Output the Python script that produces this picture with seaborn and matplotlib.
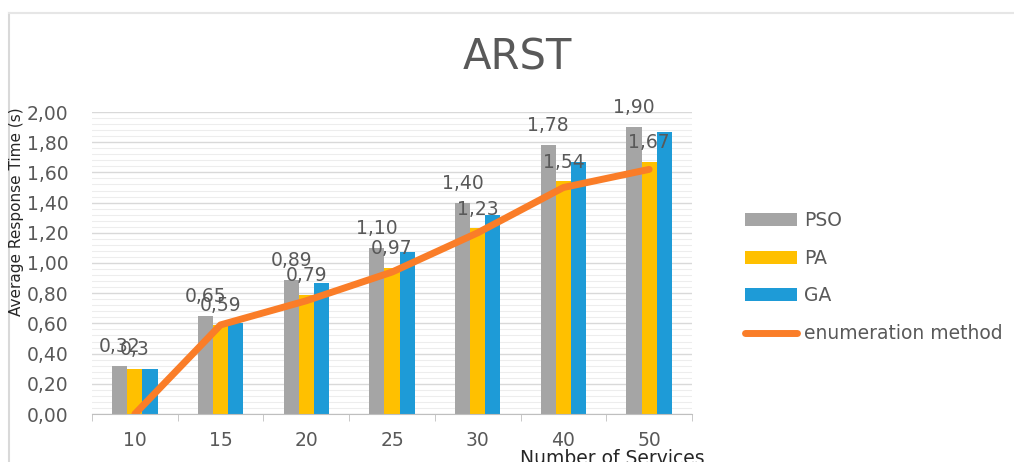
import numpy as np
import pandas as pd
import seaborn as sns
import matplotlib
matplotlib.use('Agg')
import matplotlib.pyplot as plt
from matplotlib.ticker import MultipleLocator, FuncFormatter
from matplotlib.lines import Line2D

# chart data
services = ['10', '15', '20', '25', '30', '40', '50']
methods = ['PSO', 'PA', 'GA']
pso = [0.32, 0.65, 0.89, 1.10, 1.40, 1.78, 1.90]
pa = [0.30, 0.59, 0.79, 0.97, 1.23, 1.54, 1.67]
ga = [0.30, 0.60, 0.87, 1.07, 1.32, 1.67, 1.87]
enumeration = [0.00, 0.59, 0.75, 0.94, 1.20, 1.50, 1.62]

colors = ['#A5A5A5', '#FFC000', '#1E9BD7']
line_color = '#FA7D28'
text_color = '#595959'

df = pd.DataFrame({
    'services': services * 3,
    'method': np.repeat(methods, len(services)),
    'value': pso + pa + ga,
})

fig = plt.figure(figsize=(10.14, 4.62), dpi=100)
ax = fig.add_axes([92 / 1014, 1 - 414 / 462, 600 / 1014, 302 / 462])

sns.barplot(data=df, x='services', y='value', hue='method', order=services,
            hue_order=methods, palette=colors, width=0.53, gap=0,
            saturation=1, linewidth=0, ax=ax)
sns.lineplot(x=np.arange(len(services)), y=enumeration, color=line_color,
             linewidth=5, label='enumeration method', ax=ax,
             solid_capstyle='round', solid_joinstyle='round')

# data labels like excel: PSO with two decimals, PA in general format
ax.bar_label(ax.containers[0], labels=[f'{v:.2f}'.replace('.', ',') for v in pso],
             padding=7, fontsize=13.5, color=text_color)
ax.bar_label(ax.containers[1], labels=[f'{v:g}'.replace('.', ',') for v in pa],
             padding=7, fontsize=13.5, color=text_color)

handles, labels = ax.get_legend_handles_labels()
ax.get_legend().remove()
fig.legend(handles, labels, loc='center left', bbox_to_anchor=(728 / 1014, 1 - 277 / 462),
           frameon=False, fontsize=13.5, handlelength=2.8, handleheight=0.7,
           labelspacing=1.0, handletextpad=0.35, labelcolor=text_color)

ax.set_xlim(-0.5, len(services) - 0.5)
ax.set_ylim(0, 2.0)
ax.yaxis.set_major_locator(MultipleLocator(0.2))
ax.yaxis.set_minor_locator(MultipleLocator(0.04))
ax.yaxis.set_major_formatter(FuncFormatter(lambda v, p: f'{v:.2f}'.replace('.', ',')))
ax.set_axisbelow(True)
ax.grid(which='major', axis='y', color='#D9D9D9', linewidth=1)
ax.grid(which='minor', axis='y', color='#EDEDED', linewidth=0.8)
ax.set_xticks(np.arange(-0.5, len(services), 1), minor=True)
ax.tick_params(axis='y', which='both', length=0, pad=17, labelsize=13.5, labelcolor=text_color)
ax.tick_params(axis='x', which='major', length=0, pad=12, labelsize=13.5, labelcolor=text_color)
ax.tick_params(axis='x', which='minor', length=5, color='#BFBFBF')
ax.set_xlabel('')
ax.set_ylabel('')
for side in ['left', 'top', 'right']:
    ax.spines[side].set_visible(False)
ax.spines['bottom'].set_color('#BFBFBF')

fig.text(517 / 1014, 1 - 58 / 462, 'ARST', ha='center', va='center', fontsize=30, color=text_color)
fig.text(17 / 1014, 1 - 212 / 462, 'Average Response Time (s)', rotation=90,
         ha='center', va='center', fontsize=11, color='#262626')
fig.text(612 / 1014, 1 - 449 / 462, 'Number of Services', ha='center', va='top',
         fontsize=13.5, color='#262626')

# chart border
fig.add_artist(Line2D([9 / 1014, 9 / 1014], [0, 1 - 13 / 462], transform=fig.transFigure,
                      color='#D9D9D9', linewidth=1.5))
fig.add_artist(Line2D([9 / 1014, 1], [1 - 13 / 462, 1 - 13 / 462], transform=fig.transFigure,
                      color='#E6E6E6', linewidth=1.5))

fig.savefig('out.png', dpi=100)
